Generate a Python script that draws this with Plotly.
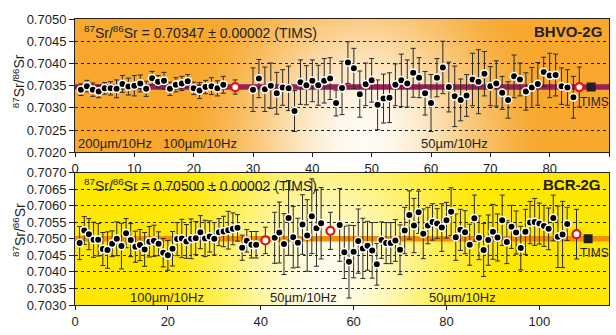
import base64, struct, zlib
import numpy as np
import plotly.graph_objects as go

# ---------------- data ----------------
# BHVO-2G (top panel)
bhvo_x1 = list(range(1, 26))
bhvo_v1 = [0.70341, 0.70349, 0.70341, 0.70337, 0.70344, 0.70344, 0.70343, 0.70354, 0.70348, 0.70350,
           0.70355, 0.70343, 0.70367, 0.70359, 0.70361, 0.70343, 0.70352, 0.70355, 0.70360, 0.70344,
           0.70339, 0.70347, 0.70349, 0.70344, 0.70352]
bhvo_e1 = [0.00013, 0.00013, 0.00015, 0.00014, 0.00013, 0.00015, 0.00020, 0.00019, 0.00019, 0.00023,
           0.00019, 0.00017, 0.00015, 0.00014, 0.00019, 0.00015, 0.00016, 0.00016, 0.00015, 0.00014,
           0.00018, 0.00015, 0.00019, 0.00017, 0.00019]
bhvo_x2 = list(range(30, 85))
bhvo_v2 = [0.70341, 0.70366, 0.70342, 0.70350, 0.70333, 0.70346, 0.70344, 0.70293, 0.70358, 0.70351,
           0.70361, 0.70351, 0.70361, 0.70366, 0.70311, 0.70345, 0.70402, 0.70389, 0.70331, 0.70353,
           0.70362, 0.70307, 0.70321, 0.70323, 0.70352, 0.70362, 0.70355, 0.70379, 0.70368, 0.70333,
           0.70311, 0.70368, 0.70391, 0.70347, 0.70326, 0.70318, 0.70328, 0.70364, 0.70359, 0.70377,
           0.70349, 0.70355, 0.70334, 0.70318, 0.70371, 0.70364, 0.70337, 0.70346, 0.70354, 0.70381,
           0.70373, 0.70374, 0.70349, 0.70346, 0.70324]
bhvo_e2 = [0.00049, 0.00043, 0.00050, 0.00051, 0.00047, 0.00040, 0.00050, 0.00046, 0.00050, 0.00044,
           0.00047, 0.00045, 0.00050, 0.00047, 0.00029, 0.00060, 0.00047, 0.00045, 0.00052, 0.00048,
           0.00049, 0.00056, 0.00055, 0.00056, 0.00047, 0.00059, 0.00053, 0.00055, 0.00045, 0.00049,
           0.00064, 0.00043, 0.00059, 0.00056, 0.00068, 0.00047, 0.00047, 0.00059, 0.00072, 0.00050,
           0.00044, 0.00051, 0.00037, 0.00041, 0.00048, 0.00037, 0.00042, 0.00045, 0.00048, 0.00033,
           0.00050, 0.00047, 0.00041, 0.00040, 0.00047]
bhvo_mean_x = [27, 85]
bhvo_mean_v = [0.70347, 0.70347]
bhvo_mean_e = [0.00016, 0.00045]
bhvo_tims_x = [87]
bhvo_tims_v = 0.70347

# BCR-2G (bottom panel)
bcr_x1 = list(range(1, 40))
bcr_v1 = [0.70487, 0.70525, 0.70514, 0.70497, 0.70497, 0.70469, 0.70466, 0.70485, 0.70500, 0.70478,
          0.70517, 0.70496, 0.70476, 0.70481, 0.70468, 0.70491, 0.70494, 0.70485, 0.70458, 0.70450,
          0.70470, 0.70499, 0.70501, 0.70492, 0.70500, 0.70502, 0.70520, 0.70501, 0.70507, 0.70500,
          0.70520, 0.70522, 0.70526, 0.70530, 0.70533, 0.70473, 0.70494, 0.70482, 0.70482]
bcr_e1 = [0.00050, 0.00042, 0.00047, 0.00053, 0.00049, 0.00050, 0.00055, 0.00039, 0.00051, 0.00069,
          0.00044, 0.00050, 0.00047, 0.00047, 0.00051, 0.00046, 0.00047, 0.00036, 0.00043, 0.00045,
          0.00052, 0.00050, 0.00058, 0.00051, 0.00060, 0.00050, 0.00050, 0.00055, 0.00047, 0.00049,
          0.00041, 0.00046, 0.00057, 0.00048, 0.00040, 0.00038, 0.00034, 0.00040, 0.00040]
bcr_x2 = list(range(43, 54))
bcr_v2 = [0.70503, 0.70519, 0.70484, 0.70563, 0.70505, 0.70488, 0.70543, 0.70510, 0.70568, 0.70532,
          0.70547]
bcr_e2 = [0.00077, 0.00092, 0.00092, 0.00113, 0.00093, 0.00074, 0.00090, 0.00108, 0.00113, 0.00115,
          0.00108]
bcr_x3 = list(range(57, 107))
bcr_v3 = [0.70542, 0.70459, 0.70431, 0.70461, 0.70493, 0.70471, 0.70479, 0.70465, 0.70423, 0.70496,
          0.70487, 0.70487, 0.70495, 0.70467, 0.70525, 0.70572, 0.70540, 0.70580, 0.70515, 0.70540,
          0.70551, 0.70546, 0.70534, 0.70556, 0.70582, 0.70505, 0.70527, 0.70520, 0.70482, 0.70562,
          0.70503, 0.70466, 0.70496, 0.70521, 0.70504, 0.70556, 0.70490, 0.70536, 0.70519, 0.70472,
          0.70521, 0.70549, 0.70551, 0.70546, 0.70539, 0.70530, 0.70563, 0.70506, 0.70513, 0.70545]
bcr_e3 = [0.00110, 0.00079, 0.00110, 0.00079, 0.00097, 0.00091, 0.00074, 0.00084, 0.00063, 0.00055,
          0.00062, 0.00062, 0.00063, 0.00075, 0.00070, 0.00073, 0.00082, 0.00064, 0.00075, 0.00055,
          0.00055, 0.00045, 0.00072, 0.00054, 0.00072, 0.00070, 0.00062, 0.00065, 0.00062, 0.00070,
          0.00066, 0.00080, 0.00076, 0.00083, 0.00071, 0.00076, 0.00065, 0.00065, 0.00065, 0.00066,
          0.00068, 0.00064, 0.00071, 0.00062, 0.00062, 0.00063, 0.00069, 0.00093, 0.00100, 0.00050]
bcr_mean_x = [41, 55, 108]
bcr_mean_v = [0.70495, 0.70524, 0.70514]
bcr_mean_e = [0.00040, 0.00056, 0.00075]
bcr_tims_x = [110.5]
bcr_tims_v = 0.70500

top_xrange = [0, 90]
top_yrange = [0.7020, 0.7050]
bot_xrange = [0, 115]
bot_yrange = [0.7030, 0.7070]
top_xticks = [0, 10, 20, 30, 40, 50, 60, 70, 80, 90]
bot_xticks = [0, 20, 40, 60, 80, 100]

# ---------------- background gradient images ----------------
def png_uri(rgb):
    h, w, _ = rgb.shape
    raw = b''.join(b'\x00' + rgb[i].tobytes() for i in range(h))

    def chunk(t, d):
        return struct.pack('>I', len(d)) + t + d + struct.pack('>I', zlib.crc32(t + d) & 0xffffffff)

    png = (b'\x89PNG\r\n\x1a\n'
           + chunk(b'IHDR', struct.pack('>IIBBBBB', w, h, 8, 2, 0, 0, 0))
           + chunk(b'IDAT', zlib.compress(raw, 9))
           + chunk(b'IEND', b''))
    return 'data:image/png;base64,' + base64.b64encode(png).decode()


def radial(w, h, cx, cy, rx, ry, edge, center):
    X, Y = np.meshgrid(np.arange(w) + 0.5, np.arange(h) + 0.5)
    d = np.clip(np.sqrt(((X - cx) / rx) ** 2 + ((Y - cy) / ry) ** 2), 0, 1)
    t = 3 * d ** 2 - 2 * d ** 3
    e = np.array(edge, float)
    c = np.array(center, float)
    img = c[None, None, :] * (1 - t[..., None]) + e[None, None, :] * t[..., None]
    return np.clip(img, 0, 255).astype(np.uint8)


top_img = radial(535, 139, 290, 125, 190, 230, (247, 168, 45), (255, 252, 246))
bot_img = radial(535, 138, 255, 110, 190, 230, (255, 232, 0), (255, 253, 238))

FONT = 'Arial, Liberation Sans, sans-serif'
INK = '#231F20'

fig = go.Figure()


def add_panel(xa, ya, xr, ref, band_color, groups, mx, mv, me, tx, tv):
    fig.add_trace(go.Scatter(x=xr, y=[ref, ref], mode='lines', xaxis=xa, yaxis=ya,
                             line=dict(color=band_color, width=5.5), hoverinfo='skip'))
    for gx, gv, ge in groups:
        fig.add_trace(go.Scatter(
            x=gx, y=gv, mode='markers', xaxis=xa, yaxis=ya,
            error_y=dict(type='data', array=ge, color='#2a2a2a', thickness=1, width=2.5),
            marker=dict(color='black', size=7.5, line=dict(color='white', width=1.5))))
    fig.add_trace(go.Scatter(
        x=mx, y=mv, mode='markers', xaxis=xa, yaxis=ya,
        error_y=dict(type='data', array=me, color='#2a2a2a', thickness=1, width=2.5),
        marker=dict(color='white', size=8, line=dict(color='#D7161E', width=2.2))))
    fig.add_trace(go.Scatter(
        x=tx, y=[tv] * len(tx), mode='markers', xaxis=xa, yaxis=ya,
        marker=dict(color=INK, size=9, symbol='square')))


add_panel('x', 'y', top_xrange, bhvo_tims_v, '#982058',
          [(bhvo_x1, bhvo_v1, bhvo_e1), (bhvo_x2, bhvo_v2, bhvo_e2)],
          bhvo_mean_x, bhvo_mean_v, bhvo_mean_e, bhvo_tims_x, bhvo_tims_v)
add_panel('x2', 'y2', bot_xrange, bcr_tims_v, '#F29100',
          [(bcr_x1, bcr_v1, bcr_e1), (bcr_x2, bcr_v2, bcr_e2), (bcr_x3, bcr_v3, bcr_e3)],
          bcr_mean_x, bcr_mean_v, bcr_mean_e, bcr_tims_x, bcr_tims_v)

axis_common = dict(ticks='outside', tickcolor=INK, showline=True, linecolor=INK, linewidth=1,
                   mirror=True, zeroline=False, tickfont=dict(family=FONT, size=13, color=INK))
yaxis_common = dict(axis_common, ticklen=5, dtick=0.0005, tickformat='.4f', showgrid=True,
                    gridcolor=INK, gridwidth=1, griddash='3px,3px')
xaxis_common = dict(axis_common, ticklen=4, showgrid=False)

fig.update_layout(
    width=616, height=335,
    margin=dict(l=75, r=6, t=19, b=18),
    paper_bgcolor='white', plot_bgcolor='rgba(0,0,0,0)',
    showlegend=False,
    xaxis=dict(xaxis_common, domain=[0, 1], anchor='y', range=top_xrange, tickvals=top_xticks),
    yaxis=dict(yaxis_common, domain=[0.5336, 1], anchor='x', range=top_yrange, tick0=top_yrange[0]),
    xaxis2=dict(xaxis_common, domain=[0, 1], anchor='y2', range=bot_xrange, tickvals=bot_xticks),
    yaxis2=dict(yaxis_common, domain=[0, 0.463], anchor='x2', range=bot_yrange, tick0=bot_yrange[0]),
    images=[
        dict(source=png_uri(top_img), xref='x', yref='y', x=top_xrange[0], y=top_yrange[1],
             sizex=top_xrange[1] - top_xrange[0], sizey=top_yrange[1] - top_yrange[0],
             sizing='stretch', xanchor='left', yanchor='top', layer='below'),
        dict(source=png_uri(bot_img), xref='x2', yref='y2', x=bot_xrange[0], y=bot_yrange[1],
             sizex=bot_xrange[1] - bot_xrange[0], sizey=bot_yrange[1] - bot_yrange[0],
             sizing='stretch', xanchor='left', yanchor='top', layer='below'),
    ],
)

ann = []


def label(text, xref, yref, x, y, xanchor='left', size=13, bold=False, **kw):
    t = '<b>%s</b>' % text if bold else text
    ann.append(dict(text=t, xref=xref, yref=yref, x=x, y=y, xanchor=xanchor, yanchor='middle',
                    showarrow=False, font=dict(family=FONT, size=size, color=INK), **kw))


label('<sup>87</sup>Sr/<sup>86</sup>Sr = 0.70347 ± 0.00002 (TIMS)', 'x domain', 'y domain', 0.013, 0.905, size=14)
label('BHVO-2G', 'x domain', 'y domain', 0.991, 0.91, xanchor='right', size=15, bold=True)
label('200µm/10Hz', 'x domain', 'y domain', 0.002, 0.065)
label('100µm/10Hz', 'x domain', 'y domain', 0.161, 0.065)
label('50µm/10Hz', 'x domain', 'y domain', 0.645, 0.065)
label('TIMS', 'x', 'y', bhvo_tims_x[0], bhvo_tims_v, size=12, xshift=-13, yshift=-15)

label('<sup>87</sup>Sr/<sup>86</sup>Sr = 0.70500 ± 0.00002 (TIMS)', 'x2 domain', 'y2 domain', 0.013, 0.905, size=14)
label('BCR-2G', 'x2 domain', 'y2 domain', 0.989, 0.91, xanchor='right', size=15, bold=True)
label('100µm/10Hz', 'x2 domain', 'y2 domain', 0.099, 0.055)
label('50µm/10Hz', 'x2 domain', 'y2 domain', 0.362, 0.055)
label('50µm/10Hz', 'x2 domain', 'y2 domain', 0.66, 0.055)
label('TIMS', 'x2', 'y2', bcr_tims_x[0], bcr_tims_v, size=12, xshift=-10, yshift=-14)

label('<sup>87</sup>Sr/<sup>86</sup>Sr', 'paper', 'paper', -0.105, 0.782, xanchor='center', size=14, textangle=-90)
label('<sup>87</sup>Sr/<sup>86</sup>Sr', 'paper', 'paper', -0.105, 0.262, xanchor='center', size=14, textangle=-90)

fig.update_layout(annotations=ann)
fig.write_html('out.html', config={'displayModeBar': False},
               post_script="document.body.style.margin='0px';")
